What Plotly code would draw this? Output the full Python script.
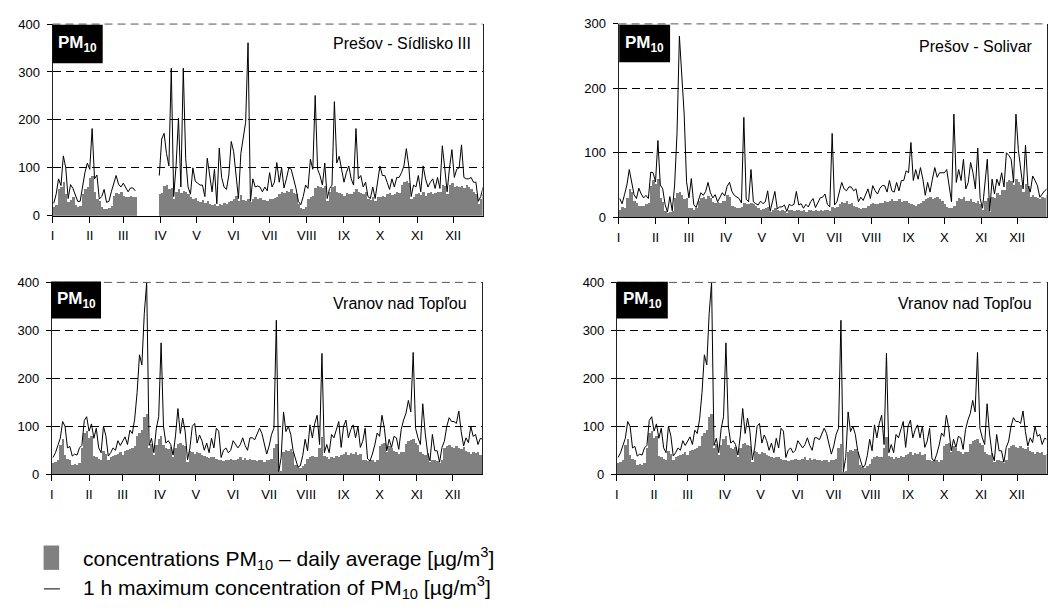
import plotly.graph_objects as go

W, H = 1048, 613

# ---------------- data (2-day steps, 180 values = days 0..359) ----------------
month_starts = [0, 31, 59, 90, 120, 151, 181, 212, 243, 273, 304, 334]
month_labels = ["I", "II", "III", "IV", "V", "VI", "VII", "VIII", "IX", "X", "XI", "XII"]
days = list(range(1, 360, 2))

N = None
# Prešov - Sídlisko III
presov_sid_max = [
    26, 45, 77, 63, 125, 100, 36, 65, 57, 45,
    30, 30, 60, 90, 110, 97, 182, 77, 85, 35,
    40, 55, 28, 30, 50, 70, 84, 66, 60, 68,
    58, 50, 58, 58, 52, N, N, N, N, N,
    N, N, N, N, 84, 160, 172, 130, 104, 308,
    40, 105, 204, 60, 308, 120, 60, 45, 100, 72,
    68, 64, 64, 40, 120, 80, 50, 97, 25, 141,
    80, 60, 55, 85, 155, 134, 77, 36, 130, 160,
    195, 361, 30, 77, 60, 62, 60, 50, 60, 52,
    90, 60, 70, 111, 70, 100, 58, 77, 100, 97,
    77, 57, 30, 23, 40, 64, 57, 118, 97, 251,
    97, 84, 64, 110, 36, 57, 64, 238, 110, 124,
    97, 70, 90, 104, 77, 64, 182, 77, 84, 60,
    70, 40, 36, 60, 36, 70, 104, 84, 84, 70,
    55, 77, 60, 80, 80, 90, 104, 140, 104, 40,
    64, 60, 84, 50, 104, 77, 60, 70, 77, 57,
    80, 57, 146, 100, 50, 100, 138, 80, 97, 100,
    148, 80, 77, 77, 80, 70, 70, 30, 40, 60,
]
presov_sid_avg = [
    18, 22, 55, 60, 70, 45, 28, 32, 38, 22,
    18, 20, 45, 55, 60, 78, 82, 50, 35, 30,
    18, 15, 14, 16, 20, 42, 48, 45, 50, 42,
    40, 38, 42, 40, 38, N, N, N, N, N,
    N, N, N, N, 45, 48, 62, 65, 55, 58,
    35, 50, 55, 48, 52, 50, 45, 38, 35, 36,
    30, 28, 32, 26, 30, 25, 22, 24, 20, 25,
    22, 26, 24, 28, 30, 35, 42, 30, 44, 32,
    30, 35, 28, 34, 38, 35, 36, 33, 32, 30,
    35, 34, 36, 38, 45, 50, 48, 52, 50, 55,
    48, 45, 25, 16, 15, 18, 35, 40, 42, 58,
    62, 60, 58, 62, 30, 50, 60, 62, 50, 48,
    45, 42, 48, 46, 45, 50, 55, 50, 48, 45,
    50, 35, 32, 38, 30, 38, 40, 42, 40, 45,
    48, 44, 46, 50, 48, 65, 70, 72, 68, 35,
    40, 45, 48, 44, 50, 42, 48, 50, 45, 48,
    50, 50, 65, 62, 45, 65, 68, 60, 62, 60,
    62, 58, 65, 60, 55, 50, 45, 25, 35, 45,
]
# Prešov - Solivar
presov_sol_max = [
    29, 21, 35, 50, 74, 55, 35, 29, 45, 36,
    30, 34, 29, 70, 69, 55, 119, 50, 44, 20,
    8, 32, 10, 50, 130, 281, 227, 160, 55, 30,
    60, 20, 15, 28, 38, 34, 40, 54, 38, 30,
    35, 24, 30, 38, 33, 48, 54, 40, 34, 31,
    29, 22, 155, 28, 24, 74, 24, 21, 19, 25,
    21, 24, 41, 9, 27, 40, 13, 16, 16, 19,
    9, 20, 18, 20, 40, 19, 21, 14, 20, 16,
    24, 29, 15, 22, 30, 31, 36, 20, 16, 130,
    19, 24, 41, 54, 44, 41, 47, 47, 41, 44,
    24, 31, 26, 36, 44, 29, 49, 41, 36, 45,
    49, 49, 39, 57, 41, 39, 54, 41, 57, 57,
    72, 69, 116, 57, 74, 59, 77, 59, 34, 54,
    39, 59, 77, 62, 69, 69, 69, 74, 47, 24,
    160, 54, 74, 57, 90, 44, 54, 85, 69, 44,
    107, 29, 14, 49, 90, 9, 59, 36, 59, 49,
    69, 47, 100, 96, 90, 54, 160, 105, 69, 44,
    112, 49, 39, 64, 57, 49, 31, 36, 41, 44,
]
presov_sol_avg = [
    12, 16, 15, 30, 44, 40, 25, 22, 18, 18,
    17, 20, 22, 48, 58, 52, 60, 30, 24, 10,
    6, 8, 10, 30, 38, 40, 35, 28, 30, 15,
    14, 12, 14, 26, 30, 32, 28, 33, 30, 24,
    22, 24, 23, 25, 26, 35, 32, 18, 16, 14,
    15, 16, 22, 20, 21, 22, 20, 18, 14, 12,
    13, 15, 16, 8, 12, 15, 11, 10, 12, 10,
    7, 11, 12, 10, 11, 12, 10, 11, 9, 11,
    12, 10, 11, 10, 11, 10, 12, 11, 10, 16,
    14, 16, 20, 24, 22, 25, 20, 22, 18, 16,
    14, 13, 15, 14, 18, 20, 22, 21, 20, 22,
    23, 25, 24, 26, 28, 25, 26, 28, 24, 26,
    25, 22, 20, 19, 18, 20, 22, 26, 28, 30,
    32, 28, 30, 32, 28, 25, 20, 16, 15, 14,
    18, 25, 30, 28, 32, 26, 25, 28, 24, 22,
    25, 20, 12, 26, 30, 8, 32, 30, 38, 35,
    42, 42, 55, 58, 56, 50, 60, 55, 50, 40,
    52, 48, 32, 35, 32, 30, 28, 32, 30, 34,
]
# Vranov nad Topľou
vranov_max = [
    35, 45, 60, 75, 110, 100, 55, 58, 38, 42,
    40, 55, 60, 112, 120, 90, 105, 75, 96, 55,
    45, 100, 80, 38, 45, 55, 50, 70, 60, 68,
    78, 62, 92, 85, 115, 170, 249, 228, 335, 400,
    60, 75, 45, 95, 120, 274, 100, 65, 70, 62,
    40, 80, 137, 85, 117, 90, 30, 55, 100, 106,
    65, 82, 70, 50, 65, 45, 75, 55, 96, 90,
    35, 50, 55, 45, 50, 70, 62, 55, 62, 76,
    60, 50, 76, 76, 72, 83, 96, 85, 62, 42,
    59, 83, 96, 321, 5, 35, 130, 89, 100, 83,
    49, 30, 15, 18, 39, 73, 49, 103, 76, 106,
    123, 62, 252, 45, 62, 45, 83, 76, 96, 110,
    56, 100, 113, 76, 93, 103, 76, 100, 56, 69,
    96, 32, 28, 42, 61, 86, 79, 123, 96, 49,
    73, 56, 79, 76, 52, 93, 113, 127, 154, 130,
    254, 96, 76, 62, 147, 86, 45, 28, 83, 49,
    49, 25, 56, 69, 100, 118, 110, 110, 106, 132,
    89, 59, 76, 66, 100, 79, 83, 62, 75, 73,
]
vranov_avg = [
    22, 25, 30, 60, 72, 40, 32, 30, 18, 20,
    18, 22, 55, 85, 90, 75, 78, 38, 35, 32,
    30, 48, 42, 30, 35, 38, 40, 42, 45, 40,
    48, 50, 52, 55, 58, 78, 85, 92, 118, 125,
    55, 62, 40, 60, 72, 78, 60, 55, 52, 56,
    35, 55, 62, 65, 60, 58, 25, 48, 45, 42,
    46, 44, 40, 38, 35, 33, 36, 35, 32, 28,
    30, 26, 28, 30, 32, 28, 30, 32, 35, 30,
    33, 30, 32, 28, 30, 26, 28, 30, 25, 28,
    30, 32, 55, 62, 4, 6, 45, 50, 48, 52,
    45, 18, 15, 12, 16, 20, 32, 35, 38, 36,
    35, 55, 76, 38, 35, 32, 36, 34, 38, 35,
    40, 42, 45, 40, 44, 42, 45, 40, 42, 30,
    28, 26, 28, 30, 25, 30, 58, 62, 65, 45,
    58, 55, 48, 45, 42, 46, 45, 62, 68, 70,
    72, 65, 60, 45, 42, 40, 44, 24, 30, 28,
    26, 22, 28, 55, 58, 60, 56, 54, 58, 55,
    52, 56, 48, 45, 42, 46, 44, 45, 40, 42,
]

stations = ["Prešov - Sídlisko III", "Prešov - Solivar", "Vranov nad Topľou", "Vranov nad Topľou"]
max_series = [presov_sid_max, presov_sol_max, vranov_max, vranov_max]
avg_series = [presov_sid_avg, presov_sol_avg, vranov_avg, vranov_avg]
y_max = [400, 300, 400, 400]
y_ticks = [[0, 100, 200, 300, 400], [0, 100, 200, 300], [0, 100, 200, 300, 400], [0, 100, 200, 300, 400]]

# ---------------- layout geometry (pixels) ----------------
FONT = "Liberation Sans, Arial, sans-serif"
# plot areas: (left, right, top, bottom)
areas = [
    (50.7, 482.0, 17.5, 214.0),
    (618.3, 1047.5, 17.3, 215.5),
    (50.0, 481.7, 282.3, 479.0),
    (616.7, 1047.5, 282.3, 479.0),
]
title_pos = [(472, 37), (1036, 41), (468, 304), (1035, 304)]
pm_boxes = [(50.7, 101, 18.3, 57.7), (619, 670, 18.3, 56.7), (49.3, 99.3, 281.5, 319.3), (616.7, 667.7, 281.7, 319.3)]


def px(x):
    return x / W


def py(y):
    return 1 - y / H


fig = go.Figure()
shapes = []
annotations = []
X_END = 358.6

for i in range(4):
    sfx = "" if i == 0 else str(i + 1)
    xa, ya = "x" + sfx, "y" + sfx
    fig.add_trace(go.Bar(x=days, y=avg_series[i], width=2, marker=dict(color="#808080", line=dict(width=0)),
                         xaxis=xa, yaxis=ya, showlegend=False))
    fig.add_trace(go.Scatter(x=days, y=max_series[i], mode="lines", line=dict(color="black", width=1),
                             connectgaps=False, xaxis=xa, yaxis=ya, showlegend=False))
    l, r, t, b = areas[i]
    fig.layout["xaxis" + sfx] = dict(
        domain=[px(l), px(r)], anchor=ya, range=[0, X_END],
        tickmode="array", tickvals=month_starts, ticktext=month_labels,
        ticks="outside", ticklen=6, tickcolor="black", tickwidth=1,
        showline=True, linecolor="black", linewidth=1,
        showgrid=False, zeroline=False, fixedrange=True,
        tickfont=dict(family=FONT, size=13, color="black"), ticklabelstandoff=2,
    )
    fig.layout["yaxis" + sfx] = dict(
        domain=[py(b), py(t)], anchor=xa, range=[0, y_max[i]],
        tickmode="array", tickvals=y_ticks[i],
        ticks="outside", ticklen=5, tickcolor="black", tickwidth=1,
        showline=True, linecolor="#222222", linewidth=1, mirror=True,
        showgrid=True, gridcolor="black", gridwidth=1, griddash="8px,5px",
        zeroline=False, fixedrange=True,
        tickfont=dict(family=FONT, size=13, color="black"), ticklabelstandoff=4,
    )
    # dashed top edge
    shapes.append(dict(type="line", xref="paper", yref="paper", x0=px(l), x1=px(r), y0=py(t), y1=py(t),
                       line=dict(color="#555555", width=1, dash="8px,5px"), layer="above"))
    # PM10 black box
    bx0, bx1, by0, by1 = pm_boxes[i]
    shapes.append(dict(type="rect", xref="paper", yref="paper", x0=px(bx0), x1=px(bx1), y0=py(by1), y1=py(by0),
                       fillcolor="black", line=dict(width=0), layer="above"))
    annotations.append(dict(xref="paper", yref="paper", x=px((bx0 + bx1) / 2), y=py((by0 + by1) / 2),
                            text="<b>PM<sub>10</sub></b>", showarrow=False, xanchor="center", yanchor="middle",
                            font=dict(family=FONT, size=17, color="white")))
    tx, ty = title_pos[i]
    annotations.append(dict(xref="paper", yref="paper", x=px(tx), y=py(ty), text=stations[i], showarrow=False,
                            xanchor="right", yanchor="middle", font=dict(family=FONT, size=16, color="black")))

# custom legend
shapes.append(dict(type="rect", xref="paper", yref="paper", x0=px(41.7), x1=px(57.3), y0=py(577), y1=py(552),
                   fillcolor="#808080", line=dict(width=0)))
shapes.append(dict(type="line", xref="paper", yref="paper", x0=px(42), x1=px(58), y0=py(596.5), y1=py(596.5),
                   line=dict(color="black", width=1)))
annotations.append(dict(xref="paper", yref="paper", x=px(79), y=py(565), xanchor="left", yanchor="middle",
                        showarrow=False, text="concentrations PM<sub>10</sub> – daily average [µg/m<sup>3</sup>]",
                        font=dict(family=FONT, size=21, color="black")))
annotations.append(dict(xref="paper", yref="paper", x=px(79), y=py(595), xanchor="left", yanchor="middle",
                        showarrow=False, text="1 h maximum concentration of PM<sub>10</sub> [µg/m<sup>3</sup>]",
                        font=dict(family=FONT, size=21, color="black")))

fig.update_layout(
    width=W, height=H, margin=dict(l=0, r=0, t=0, b=0),
    paper_bgcolor="white", plot_bgcolor="white",
    bargap=0, barmode="overlay", showlegend=False,
    shapes=shapes, annotations=annotations,
    font=dict(family=FONT, color="black"),
)

fig.write_html("out.html")
